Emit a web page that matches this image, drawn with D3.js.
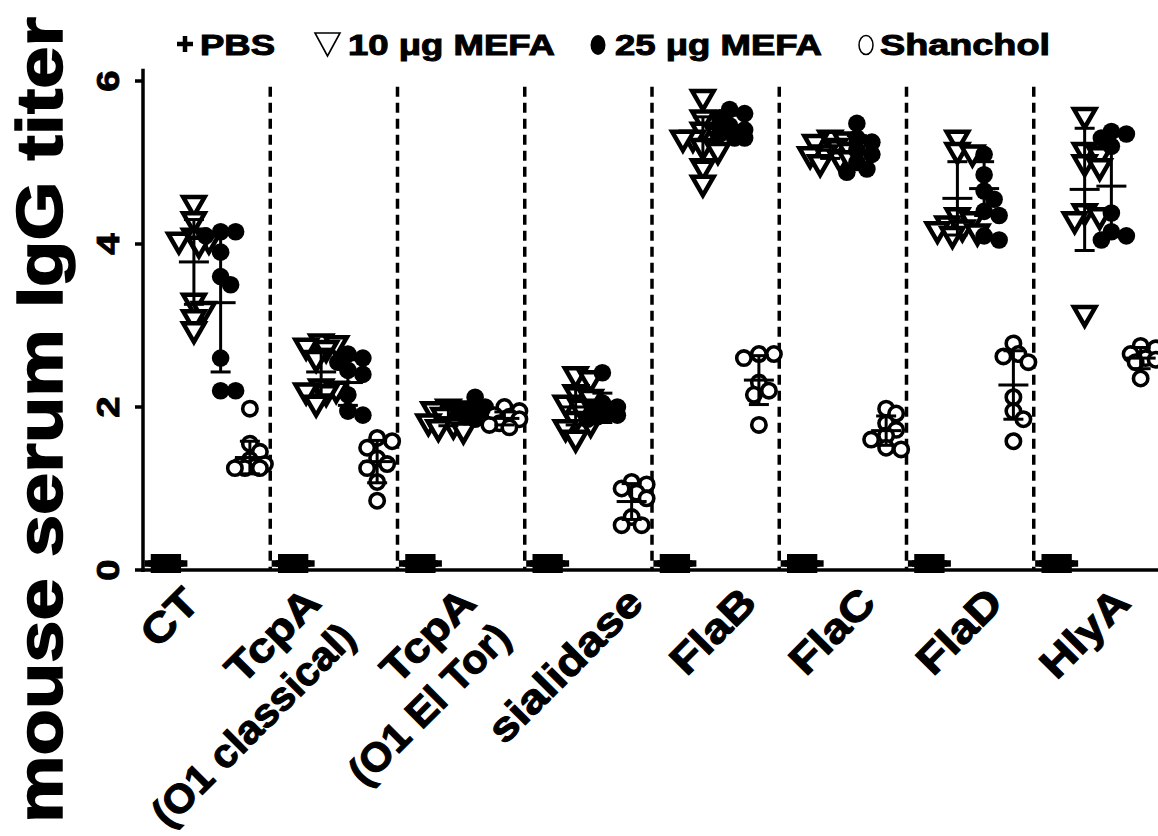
<!DOCTYPE html>
<html><head><meta charset="utf-8">
<script src="https://cdn.jsdelivr.net/npm/d3@7/dist/d3.min.js"></script>
<style>body{margin:0;background:#fff}</style>
</head><body><svg id="c" width="1158" height="836"></svg>
<script>
// ---------- data ----------
const categories = ["CT","TcpA (O1 classical)","TcpA (O1 El Tor)","sialidase","FlaB","FlaC","FlaD","HlyA"];
const categoryLabels = [["CT"],["TcpA","(O1 classical)"],["TcpA","(O1 El Tor)"],["sialidase"],["FlaB"],["FlaC"],["FlaD"],["HlyA"]];
const seriesNames = ["PBS","10 μg MEFA","25 μg MEFA","Shanchol"];
const yTicks = [0,2,4,6];
const yTitle = "mouse serum IgG titer";

const pbsValues = [
  [0.08,0.08,0.08,0.08,0.08,0.08,0.08,0.08],
  [0.08,0.08,0.08,0.08,0.08,0.08,0.08,0.08],
  [0.08,0.08,0.08,0.08,0.08,0.08,0.08,0.08],
  [0.08,0.08,0.08,0.08,0.08,0.08,0.08,0.08],
  [0.08,0.08,0.08,0.08,0.08,0.08,0.08,0.08],
  [0.08,0.08,0.08,0.08,0.08,0.08,0.08,0.08],
  [0.08,0.08,0.08,0.08,0.08,0.08,0.08,0.08],
  [0.08,0.08,0.08,0.08,0.08,0.08,0.08,0.08]
];
const mefa10Values = [
  [4.5,4.3,4.1,4.05,4.0,4.05,3.3,3.2,3.1,2.95],
  [2.8,2.78,2.75,2.72,2.6,2.25,2.22,2.2,2.18,2.05],
  [2.0,1.98,1.97,1.95,1.9,1.85,1.82,1.78,1.72,1.75],
  [2.4,2.35,2.18,2.12,2.05,2.0,1.95,1.85,1.8,1.75,1.62],
  [5.8,5.55,5.4,5.35,5.3,5.3,5.2,5.15,4.95,4.75],
  [5.3,5.28,5.25,5.2,5.15,5.1,5.05,5.05,5.0,5.12],
  [5.3,5.15,5.12,4.35,4.3,4.25,4.2,4.15,4.12,4.18],
  [5.58,5.15,5.1,5.0,4.95,4.4,4.35,4.3,3.15]
];
const mefa25Values = [
  [4.15,4.15,4.1,3.9,3.6,3.5,2.6,2.2,2.2],
  [2.65,2.6,2.55,2.45,2.4,2.15,1.95,1.9],
  [2.12,2.0,1.95,1.93,1.9,1.88,1.9,1.85],
  [2.42,2.05,2.0,1.95,1.92,1.9,1.88,1.85],
  [5.65,5.6,5.55,5.45,5.4,5.35,5.3,5.3],
  [5.48,5.3,5.25,5.15,5.1,5.0,4.92,4.88],
  [5.1,4.85,4.65,4.55,4.4,4.35,4.1,4.05],
  [5.38,5.35,5.3,5.2,4.38,4.15,4.1,4.05]
];
const shancholValues = [
  [1.98,1.55,1.45,1.35,1.3,1.28,1.25,1.25,1.25,1.27],
  [1.62,1.58,1.5,1.37,1.3,1.25,1.08,0.85],
  [2.0,1.95,1.9,1.88,1.85,1.8,1.78,1.75],
  [1.08,1.05,1.0,0.95,0.88,0.65,0.55,0.55],
  [2.65,2.65,2.6,2.3,2.2,2.15,1.78],
  [1.98,1.92,1.8,1.72,1.65,1.6,1.5,1.48],
  [2.78,2.65,2.62,2.55,2.12,1.95,1.85,1.58],
  [2.75,2.72,2.65,2.6,2.58,2.55,2.35]
];
// mean and SD
const mefa10Mean = [3.78,2.43,1.87,2.0,5.28,5.15,4.56,4.67];
const mefa10SD   = [0.52,0.28,0.10,0.22,0.28,0.10,0.45,0.75];
const mefa25Mean = [3.28,2.30,1.94,1.99,5.45,5.13,4.68,4.71];
const mefa25SD   = [0.85,0.28,0.08,0.18,0.13,0.20,0.33,0.62];
const shanMean   = [1.38,1.33,1.86,0.84,2.33,1.71,2.27,2.60];
const shanSD     = [0.20,0.26,0.08,0.22,0.30,0.18,0.42,0.13];

// ---------- layout ----------
const svg = d3.select("#c");
svg.append("rect").attr("width",1158).attr("height",836).attr("fill","#fff");
const x = d3.scaleBand().domain(categories).range([143,1161]).padding(0);
const y = d3.scaleLinear().domain([0,6]).range([570,81]);
const seriesPos = d3.scaleOrdinal().domain(seriesNames).range([0.18,0.40,0.61,0.84]);
const labelDx = [-40,-46,-18,22,8,0,0,0];   // per-label horizontal nudge (layout)
const FONT = "'Liberation Sans', Arial, sans-serif";

// dashed separators
svg.append("g").selectAll("line").data(categories.slice(1)).join("line")
  .attr("x1",d=>x(d)).attr("x2",d=>x(d))
  .attr("y1",y(5.93)).attr("y2",y(0))
  .attr("stroke","#000").attr("stroke-width",3.5).attr("stroke-dasharray","10,6");

// axes
svg.append("line").attr("x1",143).attr("x2",143).attr("y1",y(6.15)).attr("y2",y(0)+2)
  .attr("stroke","#000").attr("stroke-width",3.5);
svg.append("line").attr("x1",141).attr("x2",1158).attr("y1",y(0)).attr("y2",y(0))
  .attr("stroke","#000").attr("stroke-width",3.5);
svg.append("g").selectAll("line").data(yTicks).join("line")
  .attr("x1",135).attr("x2",143).attr("y1",d=>y(d)).attr("y2",d=>y(d))
  .attr("stroke","#000").attr("stroke-width",3.5);
svg.append("g").selectAll("text").data(yTicks).join("text")
  .attr("transform",d=>`translate(119,${y(d)}) rotate(-90) scale(1.2,1)`)
  .attr("text-anchor","middle").attr("font-family",FONT).attr("font-weight","bold")
  .attr("font-size",32).attr("stroke","#000").attr("stroke-width",0.9)
  .text(d=>d);

// y title
svg.append("text")
  .attr("transform",`translate(62,420) rotate(-90)`)
  .attr("text-anchor","middle").attr("font-family",FONT).attr("font-weight","bold")
  .attr("font-size",64).attr("stroke","#000").attr("stroke-width",1.5)
  .attr("textLength",806).attr("lengthAdjust","spacingAndGlyphs")
  .text(yTitle);

// swarm helper
function swarm(vals, cx, r, step, maxOff){
  const pts = vals.map(v=>({v, y:y(v)})).sort((a,b)=>a.y-b.y);
  const placed=[]; const cands=[0];
  for(let o=step;o<=maxOff+1e-9;o+=step){cands.push(o,-o);}
  pts.forEach(p=>{
    let best=0, bestD=-1;
    for(const c of cands){
      let md=Infinity;
      placed.forEach(q=>{const d=Math.hypot(q.x-(cx+c),q.y-p.y); if(d<md) md=d;});
      if(md>=r){best=c;bestD=md;break;}
      if(md>bestD){bestD=md;best=c;}
    }
    p.x=cx+best; placed.push(p);
  });
  return placed;
}
const cxOf=(cat,s)=>x(cat)+x.bandwidth()*seriesPos(s);

const gPts = svg.append("g");
categories.forEach((cat,i)=>{
  // PBS
  gPts.append("g").selectAll("path").data(swarm(pbsValues[i],cxOf(cat,seriesNames[0]),20,4,14)).join("path")
    .attr("d",d3.symbol(d3.symbolCross,200)())
    .attr("transform",d=>`translate(${d.x},${d.y})`).attr("fill","#000");
  // 10 ug
  gPts.append("g").selectAll("path").data(swarm(mefa10Values[i],cxOf(cat,seriesNames[1]),12,5,20)).join("path")
    .attr("d",d3.symbol(d3.symbolTriangle,200)())
    .attr("transform",d=>`translate(${d.x},${d.y}) rotate(180)`)
    .attr("fill","#fff").attr("stroke","#000").attr("stroke-width",4.5).attr("stroke-linejoin","miter");
  // 25 ug
  gPts.append("g").selectAll("circle").data(swarm(mefa25Values[i],cxOf(cat,seriesNames[2]),11,5,15)).join("circle")
    .attr("cx",d=>d.x).attr("cy",d=>d.y).attr("r",8.8).attr("fill","#000");
  // Shanchol
  gPts.append("g").selectAll("circle").data(swarm(shancholValues[i],cxOf(cat,seriesNames[3]),11,5,15)).join("circle")
    .attr("cx",d=>d.x).attr("cy",d=>d.y).attr("r",7.2).attr("fill","#fff")
    .attr("stroke","#000").attr("stroke-width",3.6);
});

// error bars
const bars = [];
categories.forEach((cat,i)=>{
  bars.push({cx:cxOf(cat,seriesNames[1]),m:mefa10Mean[i],s:mefa10SD[i]});
  bars.push({cx:cxOf(cat,seriesNames[2]),m:mefa25Mean[i],s:mefa25SD[i]});
  bars.push({cx:cxOf(cat,seriesNames[3]),m:shanMean[i],s:shanSD[i]});
});
const gb = svg.append("g").attr("stroke","#000").attr("stroke-width",3);
bars.forEach(b=>{
  gb.append("line").attr("x1",b.cx).attr("x2",b.cx).attr("y1",y(b.m+b.s)).attr("y2",y(b.m-b.s));
  gb.append("line").attr("x1",b.cx-15).attr("x2",b.cx+15).attr("y1",y(b.m)).attr("y2",y(b.m));
  gb.append("line").attr("x1",b.cx-10).attr("x2",b.cx+10).attr("y1",y(b.m+b.s)).attr("y2",y(b.m+b.s));
  gb.append("line").attr("x1",b.cx-10).attr("x2",b.cx+10).attr("y1",y(b.m-b.s)).attr("y2",y(b.m-b.s));
});

// x labels (right-aligned, rotated 45°)
categories.forEach((cat,i)=>{
  const cx = x(cat)+x.bandwidth()/2;
  const g = svg.append("g")
    .attr("transform",`translate(${cx+35+labelDx[i]},${605}) rotate(-45)`)
    .attr("font-family",FONT).attr("font-weight","bold").attr("stroke","#000").attr("stroke-width",1.1);
  categoryLabels[i].forEach((ln,j)=>{
    g.append("text").attr("text-anchor","end")
      .attr("transform",`translate(0,${j*49}) scale(${j===0?1.15:1.04},1)`)
      .attr("font-size",j===0?41:40).text(ln);
  });
});

// legend
const lg = svg.append("g").attr("font-family",FONT).attr("font-weight","bold").attr("font-size",29);
lg.append("path").attr("d","M177,44 L193,44 M185,36 L185,52").attr("stroke","#000").attr("stroke-width",4.5);
lg.append("text").attr("x",200).attr("y",55).attr("textLength",75).attr("lengthAdjust","spacingAndGlyphs").attr("stroke","#000").attr("stroke-width",1).text(seriesNames[0]);
lg.append("path").attr("d","M315,33 L340,33 L327.5,56 Z").attr("fill","none").attr("stroke","#000").attr("stroke-width",1.6);
lg.append("text").attr("x",348).attr("y",55).attr("textLength",207).attr("lengthAdjust","spacingAndGlyphs").attr("stroke","#000").attr("stroke-width",1).text(seriesNames[1]);
lg.append("ellipse").attr("cx",598).attr("cy",45).attr("rx",7.5).attr("ry",10).attr("fill","#000");
lg.append("text").attr("x",615).attr("y",55).attr("textLength",207).attr("lengthAdjust","spacingAndGlyphs").attr("stroke","#000").attr("stroke-width",1).text(seriesNames[2]);
lg.append("ellipse").attr("cx",866).attr("cy",45).attr("rx",7).attr("ry",9.5).attr("fill","none").attr("stroke","#000").attr("stroke-width",1.5);
lg.append("text").attr("x",880).attr("y",55).attr("textLength",170).attr("lengthAdjust","spacingAndGlyphs").attr("stroke","#000").attr("stroke-width",1).text(seriesNames[3]);
</script></body></html>
